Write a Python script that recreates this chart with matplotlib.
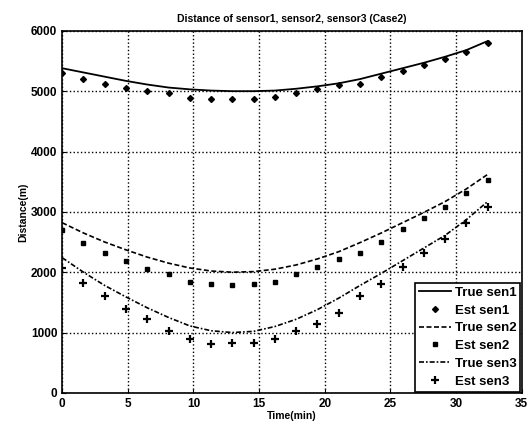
import numpy as np
import matplotlib
matplotlib.use("Agg")
import matplotlib.pyplot as plt

plt.rcParams['font.family'] = ['Liberation Sans', 'DejaVu Sans']
plt.rcParams['font.weight'] = 'bold'

# sample times (min)
t = [0.0, 1.62, 3.24, 4.86, 6.48, 8.1, 9.72, 11.34, 12.96, 14.58, 16.2,
     17.82, 19.44, 21.06, 22.68, 24.3, 25.92, 27.54, 29.16, 30.78, 32.4]

true_sen1 = [5380, 5310, 5240, 5170, 5110, 5060, 5030, 5010, 5000, 5000, 5010,
             5040, 5080, 5130, 5200, 5290, 5380, 5470, 5570, 5680, 5830]
est_sen1 = [5300, 5200, 5120, 5050, 5000, 4970, 4880, 4870, 4870, 4870, 4900,
            4970, 5040, 5100, 5120, 5230, 5330, 5430, 5530, 5650, 5800]

true_sen2 = [2820, 2650, 2500, 2370, 2250, 2150, 2070, 2020, 2000, 2010, 2050,
             2120, 2220, 2340, 2490, 2650, 2820, 2990, 3170, 3380, 3620]
est_sen2 = [2700, 2490, 2320, 2190, 2060, 1970, 1840, 1800, 1790, 1810, 1840,
            1970, 2090, 2220, 2320, 2500, 2720, 2890, 3080, 3320, 3530]

true_sen3 = [2240, 2000, 1780, 1590, 1410, 1250, 1110, 1030, 1000, 1020, 1100,
             1220, 1380, 1570, 1780, 1980, 2190, 2400, 2610, 2870, 3170]
est_sen3 = [2070, 1820, 1600, 1390, 1230, 1030, 900, 810, 820, 820, 900,
            1030, 1140, 1320, 1610, 1810, 2080, 2320, 2550, 2810, 3080]

fig = plt.figure(figsize=(5.27, 4.28), dpi=100)
ax = fig.add_axes([0.118, 0.082, 0.872, 0.846])

ax.plot(t, true_sen1, '-', color='black', lw=1.3, label='True sen1')
ax.plot(t, est_sen1, 'D', color='black', ms=3.0, label='Est sen1')
ax.plot(t, true_sen2, '--', color='black', lw=1.2, dashes=(3, 1.5), label='True sen2')
ax.plot(t, est_sen2, 's', color='black', ms=2.2, label='Est sen2')
ax.plot(t, true_sen3, '-.', color='black', lw=1.2, dashes=(3, 1.2, 1, 1.2), label='True sen3')
ax.plot(t, est_sen3, '+', color='black', ms=6, mew=1.6, label='Est sen3')

ax.set_xlim(0, 35)
ax.set_ylim(0, 6000)
ax.set_xticks(range(0, 36, 5))
ax.set_yticks(range(0, 6001, 1000))
ax.grid(True, color='black', linestyle=':', lw=1.0)
ax.tick_params(direction='in', labelsize=8.5, length=3)
for s in ax.spines.values():
    s.set_linewidth(1.2)

ax.set_title('Distance of sensor1, sensor2, sensor3 (Case2)', fontsize=7.5, fontweight='bold')
ax.set_xlabel('Time(min)', fontsize=7.5, fontweight='bold', labelpad=1)
ax.set_ylabel('Distance(m)', fontsize=7.5, fontweight='bold', labelpad=2)

leg = ax.legend(loc='lower right', fontsize=9.5, fancybox=False, framealpha=1,
                edgecolor='black', borderaxespad=0.1, handlelength=2.4,
                labelspacing=0.42, borderpad=0.3, handletextpad=0.3)
leg.get_frame().set_linewidth(1.2)

fig.savefig('out.png', dpi=100)
